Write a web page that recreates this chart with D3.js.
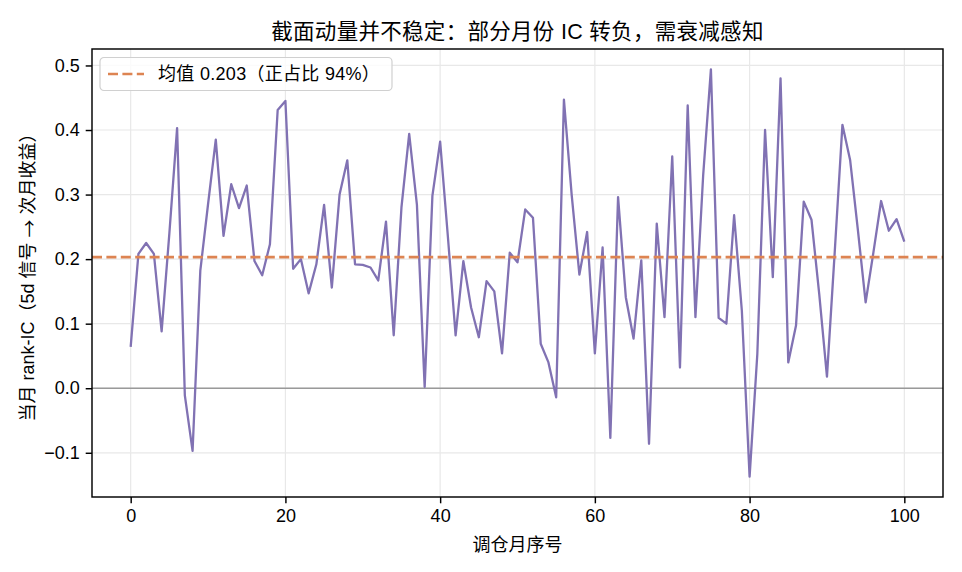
<!DOCTYPE html>
<html>
<head>
<meta charset="utf-8">
<script src="https://d3js.org/d3.v7.min.js"></script>
<style>
	body { margin: 0; background: #fff; }
	svg { display: block; font-family: "Liberation Sans", "Noto Sans CJK SC", sans-serif; }
</style>
</head>
<body>
<div id="chart"></div>
<script>
// Monthly rank-IC values (index = rebalance month number)
const icValues = [
	0.064, 0.208, 0.225, 0.208, 0.088, 0.240, 0.403, -0.011, -0.097, 0.182,
	0.285, 0.385, 0.236, 0.316, 0.279, 0.314, 0.197, 0.175, 0.223, 0.431,
	0.445, 0.185, 0.200, 0.147, 0.192, 0.284, 0.156, 0.300, 0.353, 0.192,
	0.191, 0.187, 0.167, 0.258, 0.082, 0.280, 0.394, 0.284, 0.002, 0.298,
	0.382, 0.235, 0.082, 0.197, 0.125, 0.079, 0.166, 0.150, 0.054, 0.210,
	0.195, 0.277, 0.264, 0.069, 0.040, -0.014, 0.447, 0.300, 0.176, 0.242,
	0.054, 0.218, -0.077, 0.296, 0.141, 0.077, 0.198, -0.086, 0.255, 0.110,
	0.359, 0.032, 0.438, 0.110, 0.330, 0.494, 0.109, 0.100, 0.268, 0.120,
	-0.137, 0.053, 0.400, 0.172, 0.480, 0.040, 0.097, 0.289, 0.261, 0.146,
	0.018, 0.210, 0.408, 0.353, 0.245, 0.133, 0.210, 0.290, 0.244, 0.262,
	0.227
];
const meanIC = 0.203;
const positiveShare = '94%';
const xTicks = [0, 20, 40, 60, 80, 100];
const yTicks = [-0.1, 0.0, 0.1, 0.2, 0.3, 0.4, 0.5];

const titleText = '截面动量并不稳定：部分月份 IC 转负，需衰减感知';
const xLabelText = '调仓月序号';
const yLabelParts = ['当月 rank-IC（5d 信号 ', '→', ' 次月收益）'];
const legendText = '均值 ' + meanIC.toFixed(3) + '（正占比 ' + positiveShare + '）';

const width = 962, height = 572;
const margin = { top: 49, right: 19, bottom: 75, left: 92 };
const innerW = width - margin.left - margin.right;
const innerH = height - margin.top - margin.bottom;

const svg = d3.select('#chart').append('svg')
	.attr('width', width)
	.attr('height', height);

const g = svg.append('g')
	.attr('transform', `translate(${margin.left},${margin.top})`);

const x = d3.scaleLinear().domain([-5, 105]).range([0, innerW]);
const y = d3.scaleLinear().domain([-0.1685, 0.5255]).range([innerH, 0]);

// Grid
g.append('g').selectAll('line.vgrid')
	.data(xTicks)
.join('line')
	.attr('x1', d => x(d)).attr('x2', d => x(d))
	.attr('y1', 0).attr('y2', innerH)
	.attr('stroke', '#e8e8e8').attr('stroke-width', 1.2);

g.append('g').selectAll('line.hgrid')
	.data(yTicks)
.join('line')
	.attr('x1', 0).attr('x2', innerW)
	.attr('y1', d => y(d)).attr('y2', d => y(d))
	.attr('stroke', '#e8e8e8').attr('stroke-width', 1.2);

// Zero line
g.append('line')
	.attr('x1', 0).attr('x2', innerW)
	.attr('y1', y(0)).attr('y2', y(0))
	.attr('stroke', '#999').attr('stroke-width', 1.6);

// IC series
const line = d3.line()
	.x((d, i) => x(i))
	.y(d => y(d));

g.append('path')
	.datum(icValues)
	.attr('d', line)
	.attr('fill', 'none')
	.attr('stroke', '#8172b3')
	.attr('stroke-width', 2.3)
	.attr('stroke-linejoin', 'round');

// Mean line
g.append('line')
	.attr('x1', 0).attr('x2', innerW)
	.attr('y1', y(meanIC)).attr('y2', y(meanIC))
	.attr('stroke', '#dd8452').attr('stroke-width', 2.7)
	.attr('stroke-dasharray', '10,4.4');

// Axes
const xAxis = d3.axisBottom(x).tickValues(xTicks).tickSize(6.3).tickPadding(6).tickFormat(d3.format('d'));
const yAxis = d3.axisLeft(y).tickValues(yTicks).tickSize(6.3).tickPadding(6)
	.tickFormat(d => d3.format('.1f')(d).replace('-', '\u2212'));

const gx = g.append('g').attr('transform', `translate(0,${innerH})`).call(xAxis);
const gy = g.append('g').call(yAxis);
[gx, gy].forEach(ax => {
	ax.select('.domain').remove();
	ax.selectAll('line').attr('stroke', '#000').attr('stroke-width', 1.45);
	ax.selectAll('text').attr('fill', '#000').style('font-size', '18px');
});

// Spines
g.append('rect')
	.attr('width', innerW).attr('height', innerH)
	.attr('fill', 'none').attr('stroke', '#000').attr('stroke-width', 1.45);

// Legend
const legend = g.append('g').attr('transform', 'translate(8,8.5)');
legend.append('rect')
	.attr('width', 292).attr('height', 33).attr('rx', 4)
	.attr('fill', '#fff').attr('fill-opacity', 0.8)
	.attr('stroke', '#d0d0d0').attr('stroke-width', 1.2);
legend.append('line')
	.attr('x1', 8).attr('x2', 44).attr('y1', 16.5).attr('y2', 16.5)
	.attr('stroke', '#dd8452').attr('stroke-width', 2.7)
	.attr('stroke-dasharray', '10,4.4');
legend.append('text')
	.attr('x', 58).attr('y', 16.5)
	.attr('dominant-baseline', 'central')
	.style('font-size', '18px')
	.style('letter-spacing', '0.3px')
	.text(legendText);

// Title and axis labels
svg.append('text')
	.attr('x', margin.left + innerW / 2).attr('y', 39)
	.attr('text-anchor', 'middle')
	.style('font-size', '21.5px')
	.style('letter-spacing', '0.3px')
	.text(titleText);

svg.append('text')
	.attr('x', margin.left + innerW / 2).attr('y', 551)
	.attr('text-anchor', 'middle')
	.style('font-size', '18px')
	.text(xLabelText);

const yLabel = svg.append('text')
	.attr('transform', `translate(28,${margin.top + innerH / 2}) rotate(-90)`)
	.attr('text-anchor', 'middle')
	.attr('dominant-baseline', 'central')
	.style('font-size', '18px');
yLabel.selectAll('tspan')
	.data(yLabelParts)
.join('tspan')
	.style('font-family', (d, i) => i === 1 ? '"Noto Sans CJK SC"' : null)
	.text(d => d);
</script>
</body>
</html>
